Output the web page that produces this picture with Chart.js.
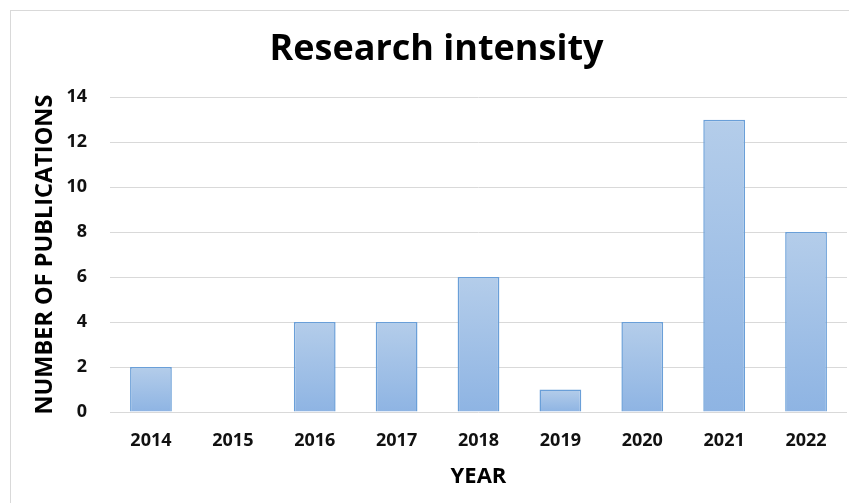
<!DOCTYPE html>
<html>
<head>
<meta charset="utf-8">
<script src="https://cdn.jsdelivr.net/npm/chart.js@4"></script>
<style>
  html, body { margin: 0; padding: 0; background: #fff; overflow: hidden; }
  #wrap { position: absolute; left: 0; top: 0; width: 849px; height: 503px; }
  #frame { position: absolute; left: 10px; top: 10px; width: 900px; height: 600px; border: 1px solid #d9d9d9; box-sizing: border-box; }
  canvas { position: absolute; left: 0; top: 0; }
</style>
</head>
<body>
<div id="wrap">
  <div id="frame"></div>
  <canvas id="c" width="849" height="503"></canvas>
</div>
<script>
const categories = ["2014", "2015", "2016", "2017", "2018", "2019", "2020", "2021", "2022"];
const publications = [2, 0, 4, 4, 6, 1, 4, 13, 8];
const chartTitle = "Research intensity";
const xTitle = "YEAR";
const yTitle = "NUMBER OF PUBLICATIONS";

const FONT = "'Open Sans', 'DejaVu Sans', sans-serif";

function barGradient(ctx) {
  const chart = ctx.chart;
  const ys = chart.scales && chart.scales.y;
  if (!ys || ctx.raw === undefined) return '#a3c0e6';
  const top = ys.getPixelForValue(ctx.raw);
  const bottom = ys.getPixelForValue(0);
  if (!isFinite(top) || !isFinite(bottom) || bottom - top < 1) return '#a3c0e6';
  const g = chart.ctx.createLinearGradient(0, top, 0, bottom);
  g.addColorStop(0, '#b4cdea');
  g.addColorStop(1, '#8eb4e3');
  return g;
}

new Chart(document.getElementById('c'), {
  type: 'bar',
  data: {
    labels: categories,
    datasets: [{
      data: publications,
      backgroundColor: barGradient,
      borderColor: '#6a9fd8',
      borderWidth: 1.5,
      categoryPercentage: 1.0,
      barPercentage: 0.51
    }]
  },
  options: {
    responsive: false,
    animation: false,
    devicePixelRatio: 1,
    layout: { padding: { left: 26, right: 2, top: 0, bottom: 0 } },
    plugins: {
      legend: { display: false },
      tooltip: { enabled: false },
      title: {
        display: true,
        text: chartTitle,
        color: '#000',
        font: { family: FONT, size: 36, weight: 'bold' },
        padding: { top: 28, bottom: 26 }
      }
    },
    scales: {
      x: {
        afterFit: (s) => { s.height = 91; },
        grid: { display: false, drawTicks: false },
        border: { display: false },
        ticks: {
          color: '#111',
          font: { family: FONT, size: 18, weight: 'bold' },
          padding: 18,
          maxRotation: 0
        },
        title: {
          display: true,
          text: xTitle,
          color: '#000',
          font: { family: FONT, size: 22, weight: 'bold' },
          padding: { top: 0, bottom: 13 }
        }
      },
      y: {
        min: 0,
        max: 14,
        afterFit: (s) => { s.width = 84; },
        grid: { color: '#d9d9d9', lineWidth: 1, drawTicks: false },
        border: { display: false },
        ticks: {
          stepSize: 2,
          color: '#111',
          font: { family: FONT, size: 18, weight: 'bold' },
          padding: 23
        },
        title: {
          display: true,
          text: yTitle,
          color: '#000',
          font: { family: FONT, size: 23.5, weight: 'bold' },
          padding: { top: 5, bottom: 0 }
        }
      }
    }
  }
});
</script>
</body>
</html>
